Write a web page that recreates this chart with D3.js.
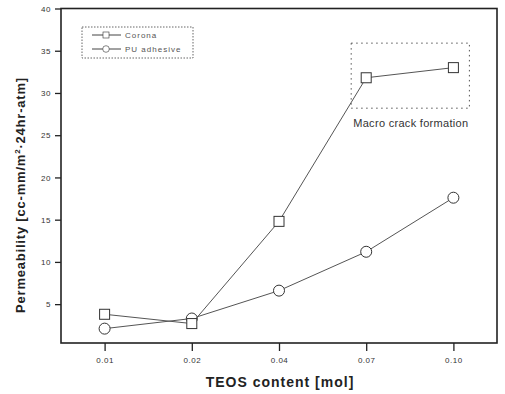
<!DOCTYPE html>
<html>
<head>
<meta charset="utf-8">
<script src="https://cdn.jsdelivr.net/npm/d3@7"></script>
<style>
  body { margin: 0; background: #fff; }
  svg { font-family: "Liberation Sans", Arial, sans-serif; }
</style>
</head>
<body>
<div id="chart"></div>
<script>
// values
var categories = ["0.01", "0.02", "0.04", "0.07", "0.10"];
var corona = [3.8, 2.7, 14.8, 31.8, 33.0];
var adhesive = [2.1, 3.3, 6.6, 11.2, 17.6];
var yTicks = [5, 10, 15, 20, 25, 30, 35, 40];
var seriesNames = ["Corona", "PU adhesive"];

var width = 505, height = 394;
var plot = {left: 61, right: 497, top: 8.5, bottom: 343};

var svg = d3.select("#chart").append("svg")
    .attr("width", width)
    .attr("height", height);

var x = d3.scalePoint()
    .domain(categories)
    .range([plot.left, plot.right])
    .padding(0.5);

var y = d3.scaleLinear()
    .domain([0.4, 40])
    .range([plot.bottom, plot.top]);

var ink = "#222";

// frame
svg.append("rect")
    .attr("x", plot.left).attr("y", plot.top)
    .attr("width", plot.right - plot.left)
    .attr("height", plot.bottom - plot.top)
    .attr("fill", "none").attr("stroke", ink).attr("stroke-width", 1.6);

// axes
var xAxis = svg.append("g")
    .attr("transform", "translate(0," + plot.bottom + ")")
    .call(d3.axisBottom(x).tickSize(8).tickPadding(6));
var yAxis = svg.append("g")
    .attr("transform", "translate(" + plot.left + ",0)")
    .call(d3.axisLeft(y).tickValues(yTicks).tickSize(6).tickPadding(4));

[xAxis, yAxis].forEach(function(g) {
  g.select(".domain").remove();
  g.selectAll(".tick line").attr("stroke", ink).attr("stroke-width", 1.3);
  g.selectAll(".tick text").attr("fill", "#333").style("font-size", "8px")
    .style("letter-spacing", "0.5px");
});

// dotted box around the crack region
svg.append("rect")
    .attr("x", x("0.07") - 15).attr("y", y(35.9))
    .attr("width", x("0.10") - x("0.07") + 31)
    .attr("height", y(28.2) - y(35.9))
    .attr("fill", "none").attr("stroke", "#555")
    .attr("stroke-width", 1).attr("stroke-dasharray", "1.5,3.5");

svg.append("text")
    .attr("x", (x("0.07") + x("0.10")) / 2 + 1)
    .attr("y", y(26.0))
    .attr("text-anchor", "middle")
    .style("font-size", "11px").attr("fill", "#333")
    .style("letter-spacing", "0.3px")
    .text("Macro crack formation");

var line = d3.line()
    .x(function(d, i) { return x(categories[i]); })
    .y(function(d) { return y(d); });

function drawSeries(values, shape) {
  svg.append("path")
      .datum(values)
      .attr("d", line)
      .attr("fill", "none").attr("stroke", "#555").attr("stroke-width", 1);
  var pts = svg.append("g").selectAll("g")
      .data(values).enter().append("g")
      .attr("transform", function(d, i) { return "translate(" + x(categories[i]) + "," + y(d) + ")"; });
  drawMarker(pts, shape);
}

function drawMarker(sel, shape) {
  if (shape === "square") {
    sel.append("rect")
        .attr("x", -5).attr("y", -5).attr("width", 10).attr("height", 10)
        .attr("fill", "#fff").attr("stroke", "#333").attr("stroke-width", 1);
  } else {
    sel.append("circle")
        .attr("r", 5.5)
        .attr("fill", "#fff").attr("stroke", "#333").attr("stroke-width", 1);
  }
}

drawSeries(adhesive, "circle");
drawSeries(corona, "square");

// legend
var legend = svg.append("g");
legend.append("rect")
    .attr("x", 82).attr("y", 27).attr("width", 111).attr("height", 31)
    .attr("fill", "#fff").attr("stroke", "#666")
    .attr("stroke-width", 1).attr("stroke-dasharray", "1.5,1.5");

seriesNames.forEach(function(name, i) {
  var ly = 35 + i * 14;
  legend.append("line")
      .attr("x1", 92).attr("x2", 121).attr("y1", ly).attr("y2", ly)
      .attr("stroke", "#444").attr("stroke-width", 1);
  var m = legend.append("g").attr("transform", "translate(106," + ly + ") scale(0.6)");
  drawMarker(m, i === 0 ? "square" : "circle");
  legend.append("text")
      .attr("x", 125).attr("y", ly + 3)
      .style("font-size", "8px").attr("fill", "#555")
      .style("letter-spacing", "1px")
      .text(name);
});

// axis titles
svg.append("text")
    .attr("x", 280)
    .attr("y", 387)
    .attr("text-anchor", "middle")
    .style("font-size", "14px").style("font-weight", "bold").attr("fill", "#222")
    .style("letter-spacing", "1px")
    .text("TEOS content [mol]");

svg.append("text")
    .attr("transform", "translate(25,195) rotate(-90)")
    .attr("text-anchor", "middle")
    .style("font-size", "13px").style("font-weight", "bold").attr("fill", "#222")
    .style("letter-spacing", "0.8px")
    .html("Permeability [cc-mm/m<tspan dy='-5' font-size='8px'>2</tspan><tspan dy='5'>·24hr-atm]</tspan>");
</script>
</body>
</html>
